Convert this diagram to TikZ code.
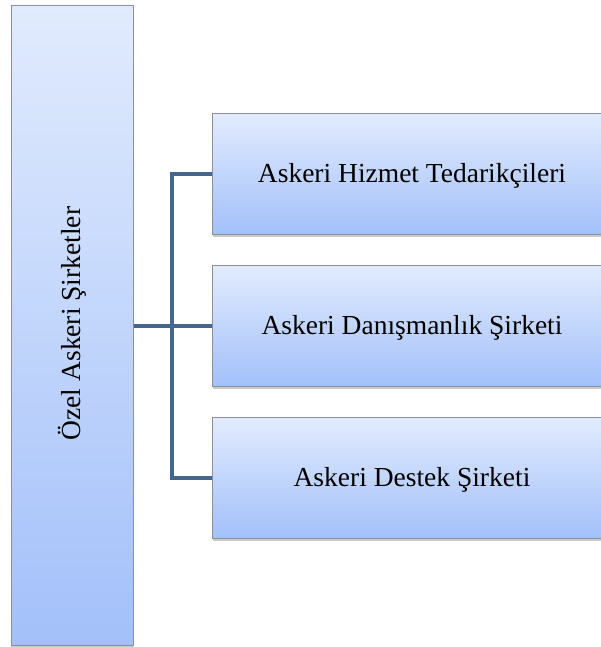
\documentclass[tikz,border=0pt]{standalone}
\usepackage{fontspec}
\setmainfont{Liberation Serif}
\usetikzlibrary{shadows}
\definecolor{topc}{HTML}{E1EBFD}
\definecolor{botc}{HTML}{A3C0FA}
\definecolor{linec}{HTML}{44668F}
\definecolor{edgec}{HTML}{8C8F96}
\tikzset{
  box/.style={draw=edgec, line width=1pt, top color=topc, bottom color=botc, inner sep=0pt,
    drop shadow={shadow xshift=0pt, shadow yshift=-2pt, opacity=0.35, fill=black!60}},
  conn/.style={draw=linec, line width=4.5pt},
  lbl/.style={font=\fontsize{27.5}{33}\selectfont}
}
\begin{document}
\begin{tikzpicture}[x=1pt,y=1pt]
\useasboundingbox (0,0) rectangle (600,-647);
\node[box, minimum width=122pt, minimum height=640pt] (root) at (72,-325.5) {};
\node[lbl, rotate=90] (rt) at ([yshift=2pt]root.center) {Özel Askeri Şirketler};
\node[box, minimum width=400pt, minimum height=121pt, anchor=north west] (a) at (212,-113) {};
\node[box, minimum width=400pt, minimum height=121pt, anchor=north west] (b) at (212,-265) {};
\node[box, minimum width=400pt, minimum height=121pt, anchor=north west] (c) at (212,-417) {};
\node[lbl] (at) at (412,-176) {Askeri Hizmet Tedarikçileri};
\node[lbl] (bt) at (412,-328) {Askeri Danışmanlık Şirketi};
\node[lbl] (ct) at (412,-480) {Askeri Destek Şirketi};
\coordinate (j) at (172,-325);
\draw[conn] (root.east |- b.west) -- (b.west);
\draw[conn] (a.west) -| (j |- c.west) -- (c.west);
\end{tikzpicture}
\end{document}
